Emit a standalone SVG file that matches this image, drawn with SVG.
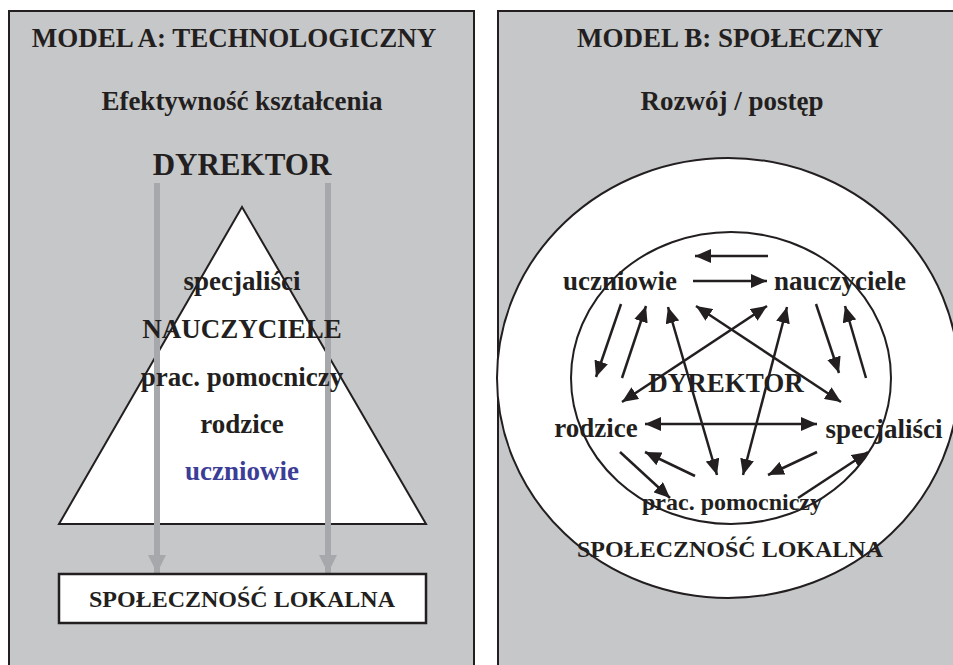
<svg xmlns="http://www.w3.org/2000/svg" width="953" height="665" viewBox="0 0 953 665">
<defs>
<style>
text{font-family:"Liberation Serif","Times New Roman",serif;font-weight:bold;fill:#231f20;text-anchor:middle;font-size:27px}
.sm{font-size:24px}
.ln{stroke:#231f20;stroke-width:2.5;fill:none}
.ga{stroke:#a6a8ab;stroke-width:6;fill:none}
</style>
<marker id="ah" viewBox="0 0 16 14" refX="16" refY="7" markerWidth="16" markerHeight="14" markerUnits="userSpaceOnUse" orient="auto-start-reverse">
<path d="M0,0 L16,7 L0,14 Z" fill="#231f20"/>
</marker>
<marker id="gh" viewBox="0 0 18 18" refX="18" refY="9" markerWidth="18" markerHeight="18" markerUnits="userSpaceOnUse" orient="auto">
<path d="M0,0 L18,9 L0,18 Z" fill="#a6a8ab"/>
</marker>
</defs>
<rect width="953" height="665" fill="#ffffff"/>

<g id="modelA">
<rect x="9" y="11" width="465" height="670" fill="#c6c7c9"/>
<path d="M9,670 V11 H474 V670" fill="none" stroke="#231f20" stroke-width="2"/>
<text x="234" y="47">MODEL A: TECHNOLOGICZNY</text>
<text x="242" y="110">Efektywność kształcenia</text>
<text x="242" y="175" style="font-size:31px">DYREKTOR</text>
</g>

<g id="piramida">
<polygon points="242,207 59,524 426,524" fill="#ffffff" stroke="#231f20" stroke-width="2"/>
</g>

<g id="connectorsA">
<line class="ga" x1="157" y1="183" x2="157" y2="573" marker-end="url(#gh)"/>
<line class="ga" x1="328" y1="183" x2="328" y2="573" marker-end="url(#gh)"/>
</g>

<g id="piramida-labels">
<text x="242" y="290">specjaliści</text>
<text x="242" y="338">NAUCZYCIELE</text>
<text x="242" y="386">prac. pomocniczy</text>
<text x="242" y="433">rodzice</text>
<text x="242" y="480" style="fill:#3b3d96">uczniowie</text>
</g>

<g id="spolecznoscA">
<rect x="59" y="574" width="367" height="49" fill="#ffffff" stroke="#231f20" stroke-width="2.5"/>
<text class="sm" x="242" y="607">SPOŁECZNOŚĆ LOKALNA</text>
</g>

<g id="modelB">
<rect x="498" y="11" width="470" height="670" fill="#c6c7c9"/>
<path d="M960,11 H498 V670" fill="none" stroke="#231f20" stroke-width="2"/>
<text x="730" y="47">MODEL B: SPOŁECZNY</text>
<text x="732" y="110">Rozwój / postęp</text>
</g>

<g id="spolecznoscB">
<ellipse cx="728" cy="378" rx="231" ry="220" fill="#ffffff" stroke="#231f20" stroke-width="2"/>
<text class="sm" x="730" y="557">SPOŁECZNOŚĆ LOKALNA</text>
</g>

<g id="szkola">
<ellipse cx="731" cy="378" rx="160" ry="146" fill="none" stroke="#231f20" stroke-width="2"/>
<text x="726" y="392">DYREKTOR</text>
</g>

<g id="uczniowie"><text x="620" y="290">uczniowie</text></g>
<g id="nauczyciele"><text x="840" y="290">nauczyciele</text></g>
<g id="rodzice"><text x="596" y="437">rodzice</text></g>
<g id="specjalisci"><text x="884" y="438">specjaliści</text></g>
<g id="pracownicy"><text class="sm" x="732" y="510">prac. pomocniczy</text></g>

<g id="connectorsB">
<line class="ln" x1="768" y1="256" x2="695" y2="256" marker-end="url(#ah)"/>
<line class="ln" x1="693" y1="281" x2="767" y2="281" marker-end="url(#ah)"/>
<line class="ln" x1="621" y1="304" x2="596" y2="377" marker-end="url(#ah)"/>
<line class="ln" x1="622" y1="378" x2="646" y2="306" marker-end="url(#ah)"/>
<line class="ln" x1="816" y1="304" x2="839" y2="373" marker-end="url(#ah)"/>
<line class="ln" x1="866" y1="378" x2="845" y2="306" marker-end="url(#ah)"/>
<line class="ln" x1="668" y1="307" x2="717" y2="475" marker-start="url(#ah)" marker-end="url(#ah)"/>
<line class="ln" x1="787" y1="307" x2="743" y2="475" marker-start="url(#ah)" marker-end="url(#ah)"/>
<line class="ln" x1="696" y1="306" x2="841" y2="402" marker-start="url(#ah)" marker-end="url(#ah)"/>
<line class="ln" x1="767" y1="306" x2="622" y2="402" marker-start="url(#ah)" marker-end="url(#ah)"/>
<line class="ln" x1="645" y1="424" x2="817" y2="424" marker-start="url(#ah)" marker-end="url(#ah)"/>
<line class="ln" x1="620" y1="452" x2="670" y2="498" marker-end="url(#ah)"/>
<line class="ln" x1="695" y1="476" x2="645" y2="452" marker-end="url(#ah)"/>
<line class="ln" x1="817" y1="452" x2="768" y2="475" marker-end="url(#ah)"/>
<line class="ln" x1="798" y1="498" x2="868" y2="452" marker-end="url(#ah)"/>
</g>
</svg>
